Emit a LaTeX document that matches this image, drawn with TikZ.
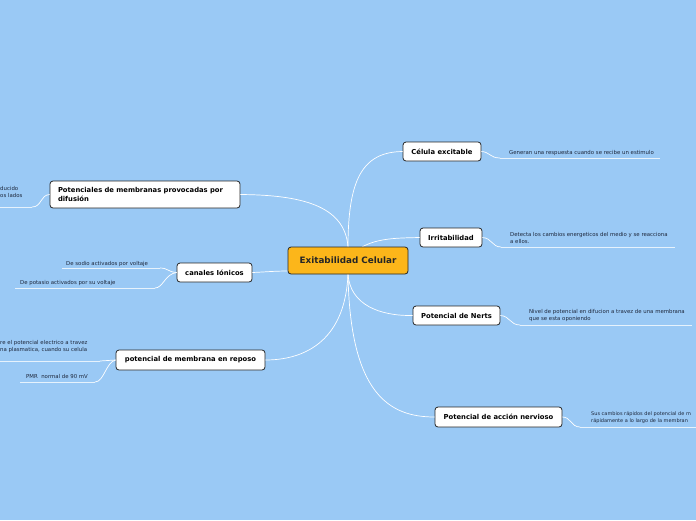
\documentclass[tikz,border=0pt]{standalone}
\usepackage{fontspec}
\setmainfont{DejaVu Sans}
\definecolor{bg}{RGB}{154,201,245}
\definecolor{core}{RGB}{252,182,26}
\definecolor{leaftext}{RGB}{30,40,60}
\tikzset{
  topic/.style={draw=black!85, line width=0.8pt, rounded corners=3pt, fill=white, inner sep=2pt, font=\fontsize{6.8}{8.6}\selectfont\bfseries, text=black},
  central/.style={topic, fill=core, font=\fontsize{8.8}{10}\selectfont\bfseries, text=black!85},
  leaf/.style={inner sep=0pt, font=\fontsize{5.4}{7.4}\selectfont, text=leaftext, align=left},
  conn/.style={draw=white, line width=0.7pt},
  uline/.style={draw=white!75!bg, line width=1pt}
}
\begin{document}
\begin{tikzpicture}[x=1pt,y=-1pt]
\fill[bg] (0,0) rectangle (696,520);
\useasboundingbox (0,0) rectangle (696,520);
\begin{scope}
\clip (0,0) rectangle (696,520);
% anchors on central
\coordinate (ctop) at (348,247);
\coordinate (ctop2) at (362,247);
\coordinate (cbot) at (348,274);
\coordinate (cleft) at (288,271);

% main topics
\node[topic, minimum width=78pt, minimum height=19pt] (cel) at (442,151.5) {Célula excitable};
\node[topic, minimum width=62pt, minimum height=19pt] (irr) at (451,237.5) {Irritabilidad};
\node[topic, minimum width=87pt, minimum height=19pt] (ner) at (456.5,315.5) {Potencial de Nerts};
\node[topic, minimum width=127pt, minimum height=20pt] (acc) at (498.5,417) {Potencial de acción nervioso};
\node[topic, minimum width=190pt, minimum height=27pt, text width=174pt, align=left] (pot) at (145,194.5) {Potenciales de membranas provocadas por\\difusión};
\node[topic, minimum width=75pt, minimum height=19pt] (can) at (214.5,272.5) {canales Iónicos};
\node[topic, minimum width=149pt, minimum height=20pt] (rep) at (190.5,360) {potencial de membrana en reposo};

% main connectors
\draw[conn] (ctop) .. controls (348,180) and (362,152) .. (cel.west);
\draw[conn] (ctop2) .. controls (378,238) and (398,238) .. (irr.west);
\draw[conn] (cbot) .. controls (350,305) and (380,316) .. (ner.west);
\draw[conn] (cbot) .. controls (350,395) and (390,417) .. (acc.west);
\draw[conn] (ctop) .. controls (345,205) and (300,195) .. (pot.east);
\draw[conn] (cleft) .. controls (275,271) and (265,272) .. (can.east);
\draw[conn] (cbot) .. controls (345,345) and (300,360) .. (rep.east);

% central node on top of connectors
\node[central, minimum width=120pt, minimum height=27pt] (c) at (348,260.5) {Exitabilidad Celular};

% leaves right
\coordinate (l1a) at (500,158); \coordinate (l1b) at (660,158);
\draw[conn] (cel.east) .. controls (490,152) and (490,158) .. (l1a);
\draw[uline] (l1a) -- (l1b);
\node[leaf, anchor=base west] (t1) at (509,154.5) {Generan una respuesta cuando se recibe un estimulo};

\coordinate (l2a) at (501,247); \coordinate (l2b) at (675,247);
\draw[conn] (irr.east) .. controls (492,238) and (492,247) .. (l2a);
\draw[uline] (l2a) -- (l2b);
\node[leaf, anchor=south west] (t2) at (510,244) {Detecta los cambios energeticos del medio y se reacciona\\a ellos.};

\coordinate (l3a) at (520,325); \coordinate (l3b) at (692,325);
\draw[conn] (ner.east) .. controls (510,316) and (510,325) .. (l3a);
\draw[uline] (l3a) -- (l3b);
\node[leaf, anchor=south west] (t3) at (529,322) {Nivel de potencial en difucion a travez de una membrana\\que se esta oponiendo};

\coordinate (l4a) at (580,427); \coordinate (l4b) at (696,427);
\draw[conn] (acc.east) .. controls (571,417) and (571,427) .. (l4a);
\draw[uline] (l4a) -- (l4b);
\node[leaf, anchor=south west, font=\fontsize{5.0}{7.4}\selectfont] (t4) at (591,424) {Sus cambios rápidos del potencial de m\\rápidamente a lo largo de la membran};

% leaves left
\coordinate (l5a) at (32,207); \coordinate (l5b) at (0,207);
\draw[conn] (pot.west) .. controls (40,195) and (42,207) .. (l5a);
\draw[uline] (l5a) -- (l5b);
\node[leaf, anchor=south west] (t5) at (0,198) {ducido\\os lados};

\coordinate (l6a) at (160,268); \coordinate (l6b) at (62,268);
\draw[conn] (can.west) .. controls (168,272) and (168,268) .. (l6a);
\draw[uline] (l6a) -- (l6b);
\node[leaf, anchor=base west] (t6) at (66,265) {De sodio activados por voltaje};

\coordinate (l7a) at (155,288); \coordinate (l7b) at (15,288);
\draw[conn] (can.west) .. controls (165,274) and (163,288) .. (l7a);
\draw[uline] (l7a) -- (l7b);
\node[leaf, anchor=base west] (t7) at (20,284) {De potasio activados por su voltaje};

\coordinate (l8a) at (100,361); \coordinate (l8b) at (0,361);
\draw[conn] (rep.west) .. controls (108,360) and (108,361) .. (l8a);
\draw[uline] (l8a) -- (l8b);
\node[leaf, anchor=south west] (t8) at (0,353) {re el potencial electrico a travez\\na plasmatica, cuando su celula};

\coordinate (l9a) at (95,382); \coordinate (l9b) at (20,382);
\draw[conn] (rep.west) .. controls (106,362) and (104,382) .. (l9a);
\draw[uline] (l9a) -- (l9b);
\node[leaf, anchor=base west] (t9) at (26,378) {PMR\ \ normal de 90 mV};
\end{scope}
\end{tikzpicture}
\end{document}
